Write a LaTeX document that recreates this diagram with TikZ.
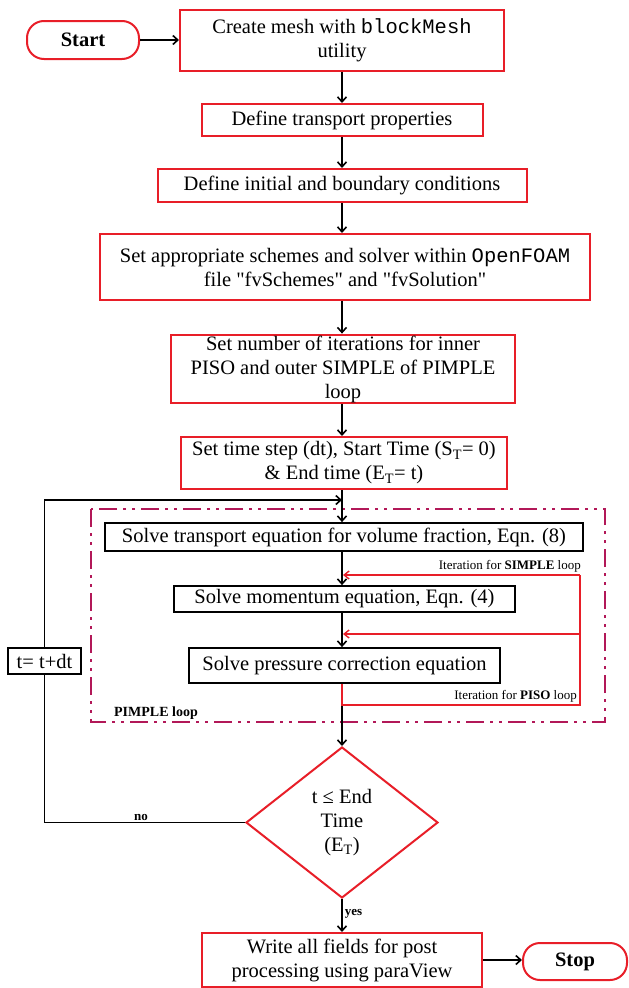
\documentclass[tikz,border=0pt]{standalone}
\usepackage{fontspec}
\setmainfont{Liberation Serif}
\setmonofont{Liberation Mono}
\usetikzlibrary{shapes.geometric,arrows.meta}
\definecolor{boxred}{RGB}{232,30,40}
\definecolor{pimplecol}{RGB}{178,24,88}
\newcommand\mainsz{\fontsize{20.5}{24}\selectfont}
\newcommand\labsz{\fontsize{13}{15}\selectfont}
\newcommand\qq{\textquotedbl}
\begin{document}
\begin{tikzpicture}[x=1pt,y=-1pt,
  redbox/.style={draw=boxred,line width=2pt,fill=white,align=center,inner sep=1pt,font=\mainsz},
  blackbox/.style={draw=black,line width=1.8pt,fill=white,align=center,inner sep=1pt,font=\mainsz},
  term/.style={draw=boxred,line width=2pt,fill=white,rounded corners=17pt,font=\mainsz\bfseries},
  flow/.style={-{Straight Barb[length=5pt,width=9pt,line width=1.6pt]},line width=1.6pt,black},
  plain/.style={line width=1.8pt,black},
  redflow/.style={-{Straight Barb[length=5pt,width=8pt,line width=1.4pt]},line width=1.5pt,boxred},
  redline/.style={line width=1.5pt,boxred},
  lab/.style={font=\labsz,inner sep=1pt},
  pimplebox/.style={draw=pimplecol,line width=2.6pt,dash pattern=on 18pt off 6pt on 3pt off 6pt on 3pt off 6pt}
]
\useasboundingbox (0,0) rectangle (629,988);

% PIMPLE frame
\draw[pimplebox] (91,509) rectangle (605,722);
\node[lab,font=\fontsize{14}{16}\selectfont\bfseries] (pimplelab) at (156,713) {PIMPLE loop};

% nodes
\node[term,minimum width=112pt,minimum height=38pt] (start) at (83,40) {Start};
\node[redbox,minimum width=324pt,minimum height=61pt] (mesh) at (342,40.5) {Create mesh with \texttt{blockMesh}\\utility};
\node[redbox,minimum width=281pt,minimum height=32pt] (trans) at (342,120) {Define transport properties};
\node[redbox,minimum width=369pt,minimum height=33pt] (ibc) at (342,185.5) {Define initial and boundary conditions};
\node[redbox,minimum width=490pt,minimum height=66pt] (schemes) at (345,267) {Set appropriate schemes and solver within \texttt{OpenFOAM}\\file \qq fvSchemes\qq{} and \qq fvSolution\qq};
\node[redbox,minimum width=344pt,minimum height=66pt] (iter) at (343,369) {Set number of iterations for inner\\PISO and outer SIMPLE of PIMPLE\\loop};
\node[redbox,minimum width=326pt,minimum height=52pt] (tstep) at (344,463) {Set time step (dt), Start Time (S\textsubscript{T}= 0)\\\& End time (E\textsubscript{T}= t)};

\node[blackbox,minimum width=478pt,minimum height=28pt] (alpha) at (344,537) {Solve transport equation for volume fraction, Eqn. (8)};
\node[blackbox,minimum width=341pt,minimum height=26pt] (mom) at (344.5,599) {Solve momentum equation, Eqn. (4)};
\node[blackbox,minimum width=311pt,minimum height=35pt] (pres) at (344.5,665.5) {Solve pressure correction equation};

\node[draw=boxred,line width=2pt,fill=white,diamond,minimum width=192pt,minimum height=151pt,inner sep=0pt,align=center,font=\mainsz] (dia) at (342,822.5) {\raisebox{-3pt}{\begin{tabular}{@{}c@{}}t ≤ End\\Time\\(E\textsubscript{T})\end{tabular}}};
\node[redbox,minimum width=280pt,minimum height=54pt] (write) at (342,960) {Write all fields for post\\processing using paraView};
\node[term,minimum width=104pt,minimum height=37pt] (stop) at (575,961.5) {Stop};

\node[blackbox,minimum width=73pt,minimum height=26pt] (tbox) at (44.5,661) {t= t+dt};

% coordinates
\coordinate (fb) at (342,500);
\coordinate (simpR) at (580,575);
\coordinate (midR) at (580,634);
\coordinate (pisoR) at (580,705);

% main flow
\draw[flow] (start.east) -- (mesh.west |- start.east);
\draw[flow] (mesh.south -| 342,0) -- (trans.north -| 342,0);
\draw[flow] (trans.south -| 342,0) -- (ibc.north -| 342,0);
\draw[flow] (ibc.south -| 342,0) -- (schemes.north -| 342,0);
\draw[flow] (schemes.south -| 342,0) -- (iter.north -| 342,0);
\draw[flow] (iter.south -| 342,0) -- (tstep.north -| 342,0);
\draw[flow] (tstep.south -| 342,0) -- (alpha.north -| 342,0);
\draw[flow] (alpha.south -| 342,0) -- (mom.north -| 342,0);
\draw[flow] (mom.south -| 342,0) -- (pres.north -| 342,0);
\draw[flow] (pres.south -| 342,0) -- (dia.north);
\draw[flow] (dia.south) -- (write.north -| dia.south) node[lab,font=\labsz\bfseries,pos=0.45,right=1pt] (yeslab) {yes};
\draw[flow] (write.east) -- (stop.west |- write.east);

% time loop
\draw[plain] (dia.west) -| (tbox.south);
\draw[flow] (tbox.north) |- (fb);
\node[lab,font=\labsz\bfseries,anchor=south] (nolab) at (141,822) {no};

% iteration loops
\draw[redline] (pres.south -| 342,0) |- (pisoR) -- (simpR);
\draw[redflow] (simpR) -- (simpR -| 343,0);
\draw[redflow] (midR) -- (midR -| 343,0);
\node[lab,anchor=south east] (simplelab) at (582,573) {Iteration for \textbf{SIMPLE} loop};
\node[lab,anchor=south east] (pisolab) at (578,703) {Iteration for \textbf{PISO} loop};
\end{tikzpicture}
\end{document}
